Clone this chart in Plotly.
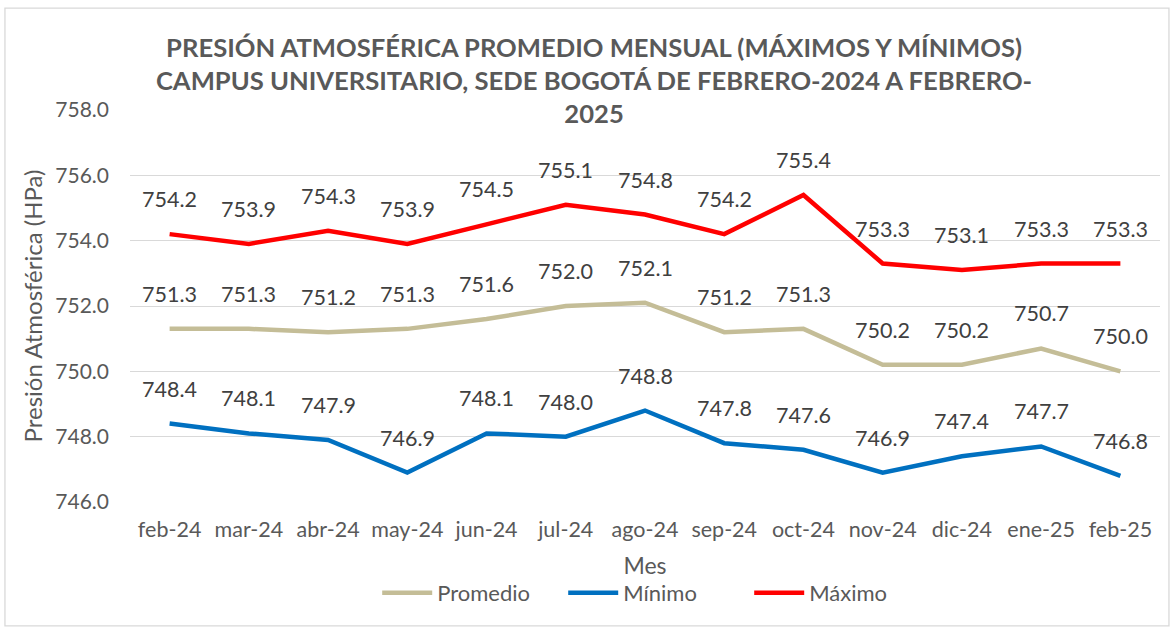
import plotly.graph_objects as go

meses = ["feb-24", "mar-24", "abr-24", "may-24", "jun-24", "jul-24", "ago-24",
         "sep-24", "oct-24", "nov-24", "dic-24", "ene-25", "feb-25"]
promedio = [751.3, 751.3, 751.2, 751.3, 751.6, 752.0, 752.1, 751.2, 751.3, 750.2, 750.2, 750.7, 750.0]
minimo = [748.4, 748.1, 747.9, 746.9, 748.1, 748.0, 748.8, 747.8, 747.6, 746.9, 747.4, 747.7, 746.8]
maximo = [754.2, 753.9, 754.3, 753.9, 754.5, 755.1, 754.8, 754.2, 755.4, 753.3, 753.1, 753.3, 753.3]

series = [("Promedio", promedio, "#C4BD97"),
          ("Mínimo", minimo, "#0070C0"),
          ("Máximo", maximo, "#FF0000")]

FONT = "Lato"
GRAY = "#595959"

fig = go.Figure()
annotations = []
for name, vals, color in series:
    fig.add_trace(go.Scatter(x=meses, y=vals, name=name, mode="lines",
                             line=dict(color=color, width=4.5)))
    for m, v in zip(meses, vals):
        annotations.append(dict(x=m, y=v, text=f"{v:.1f}", showarrow=False,
                                yshift=35, font=dict(family=FONT, size=21.5, color="#404040")))

fig.update_layout(
    width=1174, height=629,
    paper_bgcolor="white", plot_bgcolor="white",
    margin=dict(l=130, r=14, t=110, b=127, autoexpand=False),
    font=dict(family=FONT, color=GRAY),
    title=dict(
        text="<b>PRESIÓN ATMOSFÉRICA PROMEDIO MENSUAL (MÁXIMOS Y MÍNIMOS)<br>"
             "CAMPUS UNIVERSITARIO, SEDE BOGOTÁ DE FEBRERO-2024 A FEBRERO-<br>2025</b>",
        x=0.506, xanchor="center", y=0.91, yanchor="middle", yref="container",
        font=dict(family=FONT, size=25.6, color=GRAY)),
    xaxis=dict(title=dict(text="Mes", font=dict(size=23, color=GRAY), standoff=17),
               range=[-0.5, 12.5],
               tickfont=dict(size=21.5, color=GRAY), showgrid=False, automargin=False,
               showline=False, ticklabelstandoff=12, fixedrange=True),
    yaxis=dict(title=dict(text="Presión Atmosférica (HPa)", font=dict(size=24, color=GRAY), standoff=5),
               range=[746, 758], dtick=2, tickformat=".1f", automargin=False,
               tickfont=dict(size=21, color=GRAY), showgrid=True, gridcolor="#D9D9D9",
               gridwidth=1.3, zeroline=False, showline=False, ticklabelstandoff=20),
    legend=dict(orientation="h", x=0.24, xanchor="left", y=-0.232, yanchor="middle",
                font=dict(size=22, color=GRAY), itemwidth=50, entrywidth=121,
                entrywidthmode="pixels", tracegroupgap=0),
    annotations=annotations,
    shapes=[dict(type="rect", xref="paper", yref="paper",
                 x0=-0.1214, x1=1.0087, y0=-0.316, y1=1.260,
                 line=dict(color="#D9D9D9", width=1.3), fillcolor="rgba(0,0,0,0)", layer="below")],
    showlegend=True,
)

fig.write_html("out.html", config={"displayModeBar": False},
               post_script="document.body.style.margin='0';")
